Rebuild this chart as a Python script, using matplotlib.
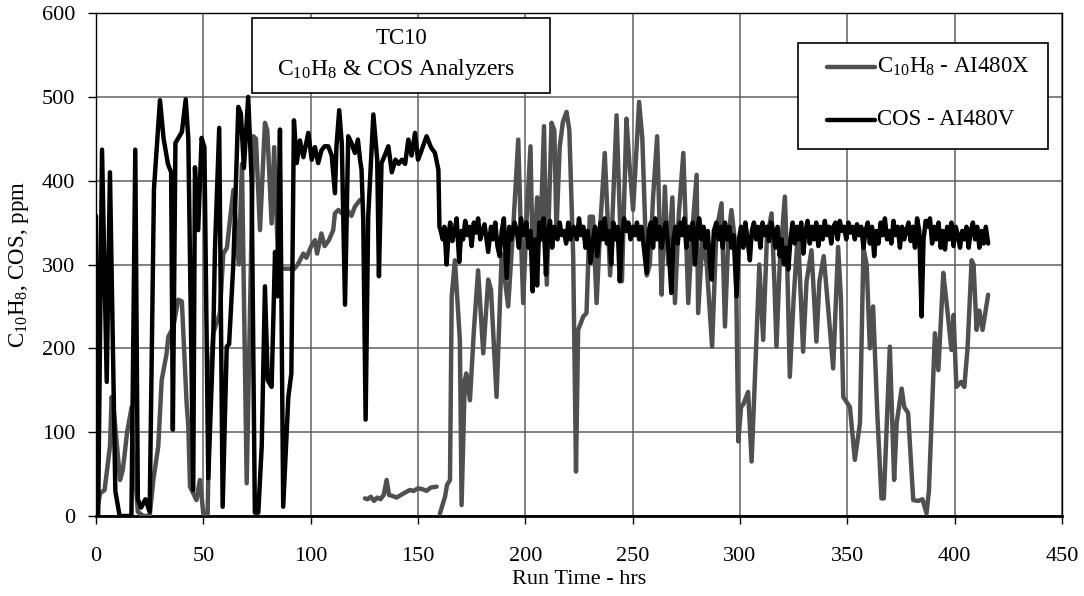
import numpy as np
import matplotlib
matplotlib.use("Agg")
import matplotlib.pyplot as plt
from matplotlib.patches import Rectangle
from matplotlib.lines import Line2D

plt.rcParams['font.family'] = ['Liberation Serif', 'DejaVu Serif']
plt.rcParams['mathtext.fontset'] = 'custom'
plt.rcParams['mathtext.rm'] = 'Liberation Serif'
plt.rcParams['mathtext.it'] = 'Liberation Serif'

# C10H8 analyzer (AI480X), three pieces separated by gaps (nan)
c10h8_hrs = [0.3, 1.9, 4, 6.5, 7.3, 8.5, 11.2, 12.5, 14.5, 16.6, 17.2, 19.5, 22, 25, 26.7,
             29, 30.6, 32.9, 33.7, 36, 38.3, 40, 42.2, 43, 43.8, 46.8, 48.4, 50, 52,
             53.1, 54.6, 57.7, 59.3, 61, 62.4, 64, 66.5, 68, 70.2, 73.3, 74.5, 76.4, 78.7,
             79.8, 81.8, 83, 84.9, 87, 90, 92, 94, 96.6, 98, 100.3, 102, 103, 105, 106.5,
             108.5, 110.5, 111.3, 112.9, 115, 117, 119, 120.6, 123,
             124,
             125.3, 126.5, 128, 129.5, 131, 132.5, 134, 135.4, 136.5, 138, 140, 142, 144,
             146.2, 148, 150, 152, 154, 156, 158.7,
             159.5,
             160.2, 162.6, 163.5, 164.9, 165.7, 167.2, 169.5, 170.3, 171.8, 172.5, 174.2,
             176, 178, 180.4, 182.7, 184, 186.6, 189, 192, 194.5, 196.7, 198, 199, 200.5,
             202.4, 203.5, 205.5, 207, 208.7, 210, 212.2, 213.5, 214.5, 216, 217.5, 219.2,
             220.5, 222.3, 223.6, 224.6, 227, 228.5, 230, 231.5, 233.2, 235, 237, 239.5,
             242.5, 245, 247.1, 248.5, 250.2, 253, 254.5, 256.6, 258, 259.5, 261.4, 262.5,
             263.5, 265, 266.5, 268.5, 269.7, 271.5, 273.6, 275.9, 277.5, 279.8, 280.5,
             282.5, 284.5, 287, 289, 291.4, 293, 294.5, 296, 298, 299.2, 300.5, 301.5,
             303.8, 305.4, 307.5, 309, 310.8, 312.5, 314.7, 316, 317, 318.5, 320.9, 322,
             323.2, 325, 327, 329.4, 331, 333.3, 335.6, 337, 339, 341, 343.4, 345.7, 347,
             348.1, 351.2, 353.5, 355.9, 357.5, 359, 360.5, 362, 364, 365.9, 367, 369.8,
             371.8, 373, 375.3, 376.5, 378.3, 380.7, 383, 385, 386.9, 388, 390.8, 392.4,
             394.7, 396, 398.5, 399.5, 400.8, 403, 404.5, 406, 407.9, 408.8, 410.2, 411.5,
             413, 415.6]
c10h8_ppm = [3, 27, 31, 83, 142, 120, 43, 55, 100, 130, 84, 5, 0, 0, 43,
             83, 162, 194, 214, 225, 258, 256, 135, 107, 35, 19, 43, 3, 3,
             162, 218, 242, 313, 320, 353, 389, 300, 420, 39, 453, 450, 341, 469,
             460, 349, 440, 297, 295, 295, 294, 300, 313, 308, 322, 329, 313, 337, 322,
             329, 341, 361, 365, 360, 365, 358, 369, 377,
             np.nan,
             21, 20, 23, 18, 22, 20, 25, 43, 25, 24, 22, 25, 28,
             31, 30, 33, 32, 30, 34, 35,
             np.nan,
             3, 23, 37, 43, 262, 305, 210, 13, 162, 170, 138,
             220, 293, 194, 282, 270, 142, 313, 250, 350, 449, 330, 254, 350,
             441, 290, 380, 330, 465, 276, 469, 460, 340, 440, 470, 482,
             460, 309, 53, 222, 238, 242, 357, 357, 254, 350, 433, 287,
             478, 280, 474, 420, 365, 494, 450, 287, 300, 380, 453, 350,
             264, 393, 300, 380, 254, 360, 433, 254, 330, 407, 242,
             330, 300, 202, 340, 373, 226, 330, 365, 320, 89, 130, 133,
             148, 65, 200, 300, 210, 330, 361, 280, 202, 300, 381, 300,
             166, 260, 340, 196, 280, 317, 208, 280, 310, 250, 176, 321, 260,
             142, 130, 67, 111, 320, 300, 200, 250, 120, 21, 21, 202,
             43, 111, 152, 130, 123, 19, 18, 20, 3, 30, 218, 174,
             290, 260, 198, 240, 154, 160, 154, 200, 305, 300, 222, 245,
             222, 264]

# COS analyzer (AI480V)
cos_hrs = [0, 1, 2.8, 5, 6.5, 9, 11, 13, 16.5, 18.3, 19.5, 21, 23, 25, 27, 29.8, 31.5,
           33.5, 35, 35.8, 37, 40, 41.8, 43, 45.3, 46.1, 47.6, 49.2, 50.5, 52.3, 54.6,
           55.4, 57.4, 59, 60.9, 62, 64, 66.3, 67.5, 68.9, 70.9, 72.5, 74, 75.6, 77.2,
           78.7, 80, 81.8, 83.4, 84.5, 85.7, 87.2, 89.6, 91, 92.2, 93.5, 95, 96.6, 98.9,
           100.5, 102, 103.5, 105, 106.5, 108.2, 109.8, 111.3, 112, 113.3, 114.5, 116,
           117.5, 119, 120.6, 122, 123, 123.7, 124.5, 125.6, 126.8, 129.2, 131, 131.8,
           133, 134.5, 136.2, 137.8, 139.5, 141, 142.5, 144, 145.5, 147, 148.6, 150,
           151.5, 154, 156, 157.9, 159.5, 160,
           160.5, 161.5, 162.3, 163.3, 164.2, 165, 166, 167, 168, 169.2, 170.2, 171, 172,
           173, 174, 175, 176, 177, 178, 179, 180, 181, 182.7, 184, 185, 186, 187, 188,
           189, 190, 191.3, 192.5, 193.5, 195, 196, 197, 198, 199, 200.5, 201.5, 202.4,
           203.4, 204.5, 205.5, 206.5, 207.5, 208.5, 209.6, 210.5, 211.5, 212.5, 213.5,
           215, 216, 217, 218, 219, 220, 221, 222.5, 224, 225, 226, 227, 228, 229, 230.4,
           231.5, 232.5, 233.5, 235, 236, 237, 238, 239, 240, 241, 242, 243, 244, 245,
           246, 247, 248, 249, 250, 251, 252, 253, 254, 255, 256.5, 257.5, 258.5, 259.5,
           260.5, 261.5, 262.5, 263.5, 264.5, 265.5, 267, 268, 269, 270, 271, 272, 273,
           274, 275, 276, 277, 278, 279, 280, 281, 282, 283, 284, 285, 286, 286.8, 287.8,
           289, 290, 291, 292, 293, 294, 295, 296, 297, 298.4, 299.5, 300.5, 301.5,
           302.5, 303.5, 304.6, 305.5, 306.5, 307.5, 308.5, 309.5, 310.5, 311.5, 312.5,
           313.5, 314.5, 315.5, 316.5, 317.5, 318.5, 319.5, 320.5, 321.5, 322.5, 323.5,
           324.5, 325.5, 326.5, 327.5, 328.5, 329.5, 330.5, 331.5, 332.5, 333.5, 334.5,
           335.5, 336.5, 337.5, 338.5, 339.5, 340.5, 341.5, 342.5, 343.5, 344.5, 345.5,
           346.5, 347.5, 348.5, 349.5, 350.5, 351.5, 352.5, 353.5, 354.5, 355.5, 356.5,
           357.5, 358.5, 359.5, 360.5, 361.5, 362.5, 363.5, 364.5, 365.5, 366.5, 367.5,
           368.5, 369.5, 370.5, 371.5, 372.5, 373.5, 374.5, 375.5, 376.5, 377.5, 378.5,
           379.5, 380.5, 381.5, 382.5, 383.5, 384.6, 385.5, 386.5, 387.5, 388.5, 389.5,
           390.5, 391.5, 392.5, 393.5, 394.5, 395.5, 396.5, 397.5, 398.5, 399.5, 400.5,
           401.5, 402.5, 403.5, 404.5, 405.5, 406.5, 407.5, 408.5, 409.5, 410.5, 411.5,
           412.5, 413.5, 414.5, 415.6]
cos_ppm = [358, 0, 437, 160, 410, 30, 0, 0, 0, 437, 20, 10, 20, 5, 390, 496, 450,
           420, 410, 103, 445, 458, 497, 450, 31, 416, 341, 451, 440, 45, 210,
           317, 463, 11, 202, 205, 302, 488, 480, 415, 500, 401, 4, 4, 83,
           274, 162, 154, 315, 262, 461, 11, 142, 170, 472, 421, 448, 428, 457,
           425, 440, 421, 436, 441, 441, 430, 385, 440, 484, 444, 252,
           453, 445, 433, 449, 425, 413, 353, 115, 357, 479, 425, 286,
           421, 430, 441, 410, 425, 420, 425, 420, 449, 430, 457, 425,
           435, 453, 440, 433, 413, 345,
           341, 330, 345, 300, 335, 350, 328, 340, 355, 303, 340, 330, 352,
           335, 345, 322, 350, 338, 355, 330, 340, 348, 315, 345, 330, 350, 322, 310,
           340, 355, 284, 345, 330, 350, 340, 320, 355, 335, 350, 320, 340,
           268, 330, 275, 350, 330, 355, 288, 340, 352, 320, 345,
           330, 350, 335, 340, 325, 350, 330, 345, 330, 355, 335, 345, 320, 340, 302,
           330, 345, 310, 350, 330, 355, 325, 340, 300, 350, 330, 345, 280, 335,
           355, 340, 350, 330, 345, 335, 350, 330, 345, 325, 290, 340, 350, 320,
           355, 330, 345, 320, 340, 350, 310, 266, 330, 345, 325, 350, 335,
           355, 320, 345, 330, 350, 300, 340, 355, 330, 345, 320, 340, 300, 282, 340,
           350, 330, 345, 320, 350, 330, 345, 320, 335, 262, 330, 345, 320,
           350, 330, 305, 340, 350, 330, 345, 320, 350, 335, 345,
           328, 350, 340, 320, 345, 310, 330, 300, 320, 294, 330,
           350, 325, 345, 330, 350, 313, 340, 352, 325, 345, 330,
           350, 322, 345, 330, 352, 335, 345, 325, 345, 350, 330,
           352, 340, 345, 330, 350, 338, 345, 330, 348, 335, 345,
           320, 340, 350, 325, 345, 310, 340, 325, 350, 335, 355,
           330, 340, 325, 352, 335, 345, 320, 345, 330, 340, 350,
           328, 345, 320, 355, 340, 238, 330, 352, 345, 355, 325,
           345, 330, 350, 320, 340, 318, 345, 330, 350, 322, 345,
           335, 320, 340, 330, 345, 320, 340, 350, 330, 345, 320,
           340, 325, 345, 325]

x_ticks = [0, 50, 100, 150, 200, 250, 300, 350, 400, 450]
y_ticks = [0, 100, 200, 300, 400, 500, 600]
series_names = ['C$_{10}$H$_8$ - AI480X', 'COS - AI480V']
series_colors = ['#505050', 'black']

W, H = 1084, 596
fig = plt.figure(figsize=(W/100, H/100), dpi=100)
ax = fig.add_axes([96/W, 1-516/H, 966/W, 503/H])

ax.plot(c10h8_hrs, c10h8_ppm, color=series_colors[0], lw=3.2, solid_joinstyle='round',
        solid_capstyle='round', zorder=3)
ax.plot(cos_hrs, cos_ppm, color=series_colors[1], lw=3.2, solid_joinstyle='round',
        solid_capstyle='round', zorder=4)

ax.set_xlim(0, 450)
ax.set_ylim(0, 600)
ax.set_xticks(x_ticks)
ax.set_yticks(y_ticks)
ax.grid(True, color='#606060', lw=1.1)
ax.set_axisbelow(True)
for s in ax.spines.values():
    s.set_color('black')
    s.set_linewidth(1.0)
ax.spines['bottom'].set_linewidth(2.0)
ax.tick_params(axis='both', direction='out', length=6, width=1, labelsize=16)
ax.tick_params(axis='y', pad=9)
ax.tick_params(axis='x', pad=16)

ax.set_xlabel('Run Time - hrs', fontsize=16, labelpad=3)
ax.set_ylabel('C$_{10}$H$_8$, COS, ppm', fontsize=16.5, labelpad=8)

# title box
fig.add_artist(Rectangle((252/W, 1-93/H), 298/W, 75/H, transform=fig.transFigure,
                         facecolor='white', edgecolor='black', lw=1.2, zorder=10))
fig.text(401/W, 1-38/H, 'TC10', ha='center', va='center', fontsize=16.5, zorder=11)
fig.text(396/W, 1-70/H, 'C$_{10}$H$_8$ & COS Analyzers', ha='center', va='center',
         fontsize=17, zorder=11)

# legend box
fig.add_artist(Rectangle((798/W, 1-149/H), 250/W, 106/H, transform=fig.transFigure,
                         facecolor='white', edgecolor='black', lw=1.2, zorder=10))
for i, (name, col) in enumerate(zip(series_names, series_colors)):
    yy = 1 - (67 + 53*i)/H
    fig.add_artist(Line2D([827/W, 875/W], [yy, yy], transform=fig.transFigure,
                          color=col, lw=3.2, solid_capstyle='round', zorder=11))
    fig.text(877/W, yy, name, ha='left', va='center', fontsize=16.5, zorder=11)

fig.savefig('out.png', dpi=100)
